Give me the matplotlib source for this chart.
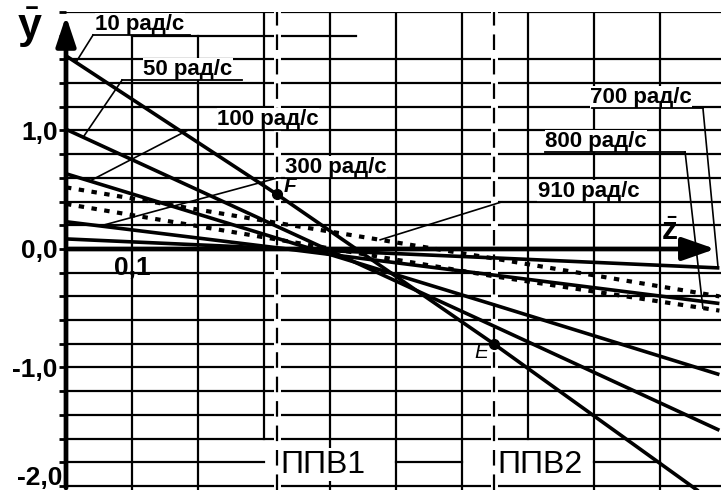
import numpy as np
import matplotlib.pyplot as plt

plt.rcParams['font.family'] = ['Liberation Sans', 'DejaVu Sans']
plt.rcParams['mathtext.fontset'] = 'custom'
plt.rcParams['mathtext.bf'] = 'Liberation Sans:bold'
plt.rcParams['mathtext.rm'] = 'Liberation Sans'

# z positions where the curves were read (0, ППВ1, ППВ2, right edge)
z_pts = [0.0, 0.32, 0.648, 0.99]

# y values of each curve at z_pts
y_10 = [1.63, 0.46, -0.80, -2.17]
y_50 = [1.01, 0.19, -0.65, -1.53]
y_100 = [0.635, 0.09, -0.47, -1.06]
y_300 = [0.23, 0.01, -0.22, -0.46]
y_700 = [0.085, 0.005, -0.075, -0.16]
y_800 = [0.38, 0.08, -0.23, -0.52]   # пунктир
y_910 = [0.52, 0.22, -0.08, -0.40]   # пунктир

solid = [y_10, y_50, y_100, y_300, y_700]
dotted = [y_800, y_910]

z_ppv = [0.32, 0.648]
ppv_names = ["ППВ1", "ППВ2"]
pt_names = ["F", "E"]

y_ticks = np.round(np.arange(-2.0, 2.01, 0.2), 1)
y_labels = {1.0: "1,0", 0.0: "0,0", -1.0: "-1,0"}

fig = plt.figure(figsize=(7.21, 4.90), dpi=100)
ax = fig.add_axes([66/721, 0, 655/721, 478/490])
ax.set_xlim(0, 0.9924)
ax.set_ylim(-2.034, 2.0)
for s in ax.spines.values():
    s.set_visible(False)

# сетка (с пропусками как на рисунке)
for yy in y_ticks:
    if yy == 0:
        continue
    if yy == 1.8:
        ax.plot([0.1, 0.44], [yy, yy], color='black', lw=1.6, zorder=1)
    elif yy == -1.8:
        for a, b in [(0, 0.3), (0.5, 0.6), (0.8, 0.9)]:
            ax.plot([a, b], [yy, yy], color='black', lw=1.6, zorder=1)
    else:
        ax.axhline(yy, color='black', lw=1.6, zorder=1)
for xx in np.round(np.arange(0.1, 0.95, 0.1), 1):
    top = 1.8 if xx in (0.1, 0.2) else 2.0
    bot = -1.6 if xx in (0.3, 0.7) else -2.1
    ax.plot([xx, xx], [bot, top], color='black', lw=1.6, zorder=1)

ax.set_yticks(y_ticks)
ax.set_yticklabels([y_labels.get(v, "") for v in y_ticks], fontsize=19, fontweight='bold')
ax.tick_params(axis='y', length=5, width=2, pad=1)
ax.set_xticks([])
ax.text(-0.006, -1.93, "-2,0", fontsize=19, fontweight='bold', ha='right', va='center')

# ППВ
for zp, name in zip(z_ppv, ppv_names):
    ax.axvline(zp, color='white', lw=5, zorder=2)
    ax.axvline(zp, color='black', lw=1.6, ls=(0, (7, 4)), zorder=3)
    ax.text(zp + 0.005, -1.82, name, fontsize=23, ha='left', va='center', zorder=4,
            bbox=dict(facecolor='white', edgecolor='none', pad=1))

# кривые
for yv in solid:
    ax.plot(z_pts, yv, color='black', lw=2.6, zorder=5, solid_capstyle='butt')
for yv in dotted:
    ax.plot(z_pts, yv, color='black', lw=3, ls=(0, (1.3, 1.8)), zorder=5)

# оси
ax.annotate('', xy=(0, 1.99), xytext=(0, -2.04),
            arrowprops=dict(arrowstyle='-|>,head_length=0.9,head_width=0.3',
                            color='black', lw=3.4, mutation_scale=20), zorder=6)
ax.annotate('', xy=(0.988, 0), xytext=(0, 0),
            arrowprops=dict(arrowstyle='-|>,head_length=1.0,head_width=0.35',
                            color='black', lw=3.4, mutation_scale=20), zorder=6)
fig.text(30/721, 1 - 28/490, r'$\bar{\mathbf{y}}$', fontsize=31, ha='center', va='center')
ax.text(0.915, 0.14, r'$\bar{\mathbf{z}}$', fontsize=23, ha='center', va='center')
ax.text(0.1, -0.16, "0,1", fontsize=19, fontweight='bold', ha='center', va='center')

# точки F и E
yF = np.interp(z_ppv[0], z_pts, y_10)
yE = np.interp(z_ppv[1], z_pts, y_10)
ax.plot(z_ppv, [yF, yE], 'o', color='black', ms=7, zorder=7)
ax.text(z_ppv[0] + 0.009, yF + 0.07, pt_names[0], fontsize=15, fontstyle='italic',
        fontweight='bold', ha='left', va='center', zorder=7)
ax.text(z_ppv[1] - 0.008, yE - 0.07, pt_names[1], fontsize=15, fontstyle='italic',
        ha='right', va='center', zorder=7)

# подписи с выносками:
# (текст, кривая, z точки на кривой, начало черты, конец черты, высота черты, x текста, сторона выноски)
labels = [("10 рад/с", y_10, 0.015, 0.041, 0.188, 1.806, 0.044, 'left'),
          ("50 рад/с", y_50, 0.026, 0.085, 0.267, 1.426, 0.117, 'left'),
          ("100 рад/с", y_100, 0.036, 0.185, 0.40, 1.004, 0.229, 'left'),
          ("300 рад/с", y_300, 0.052, 0.32, 0.494, 0.599, 0.332, 'left'),
          ("910 рад/с", y_910, 0.476, 0.66, 0.885, 0.397, 0.715, 'left'),
          ("700 рад/с", y_700, 0.988, 0.797, 0.965, 1.19, 0.794, 'right'),
          ("800 рад/с", y_800, 0.965, 0.726, 0.938, 0.819, 0.726, 'right')]
for text, yv, zc, x0, x1, yl, xt, side in labels:
    yc = np.interp(zc, z_pts, yv)
    xs = x0 if side == 'left' else x1
    ax.text(xt, yl + 0.045, text, fontsize=16, fontweight='bold', ha='left',
            va='baseline', zorder=8,
            bbox=dict(facecolor='white', edgecolor='none', pad=0.3))
    ax.plot([x0, x1], [yl, yl], color='black', lw=1.3, zorder=9)
    ax.plot([xs, zc], [yl, yc], color='black', lw=1.2, zorder=9)

fig.savefig('out.png', dpi=100)
